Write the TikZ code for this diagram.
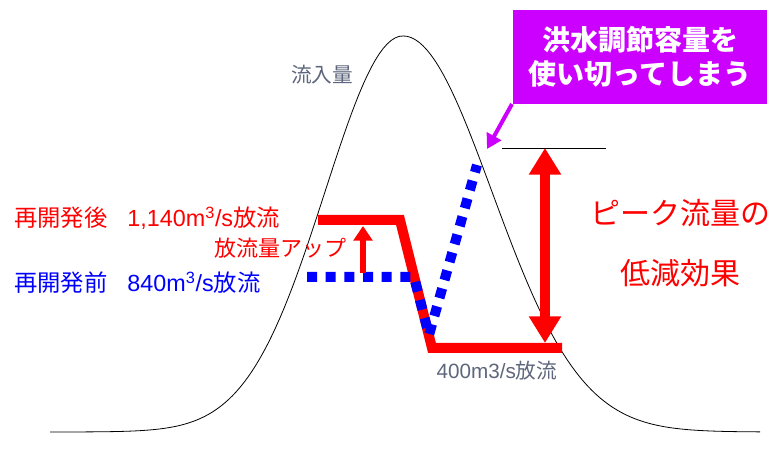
\documentclass[tikz,border=0pt]{standalone}
\usepackage{fontspec}
\setmainfont{Noto Sans CJK JP}
\newfontfamily\lat{Liberation Sans}
\usetikzlibrary{arrows.meta}
\definecolor{Rojo}{HTML}{FF0000}
\definecolor{Azul}{HTML}{0000FF}
\definecolor{Morado}{HTML}{CC00FF}
\definecolor{Pizarra}{HTML}{5E667C}
\tikzset{
  curva/.style    = {draw=black, line width=0.6pt},
  descarga/.style = {draw=Rojo, line width=7.5pt},
  previa/.style   = {draw=Azul, line width=7.5pt, dash pattern=on 7.5pt off 6.5pt},
  subida/.style   = {-{Triangle[width=14pt,length=11pt]}, draw=Rojo, fill=Rojo, line width=4.5pt},
  efecto/.style   = {{Triangle[width=23pt,length=20pt]}-{Triangle[width=23pt,length=20pt]},
                     draw=Rojo, fill=Rojo, line width=7.5pt},
  aviso/.style    = {-{Triangle[width=12pt,length=11pt]}, draw=Morado, fill=Morado, line width=3pt},
  etiq/.style     = {inner sep=0pt, anchor=west, font=\fontsize{17.5}{21}\selectfont},
  gris/.style     = {inner sep=0pt, text=Pizarra, font=\fontsize{15.5}{18}\selectfont},
  globo/.style    = {fill=Morado, text=white, align=center, inner sep=0pt,
                     minimum width=190.5pt, minimum height=71pt,
                     font=\bfseries\fontsize{21}{25.5}\selectfont},
}
\begin{document}
\begin{tikzpicture}[x=0.75pt, y=-0.75pt]
  \useasboundingbox (0,0) rectangle (776,470);
  % inflow hydrograph
  \draw[curva] plot[domain=50:403, samples=90] (\x, {432-396*exp(-((\x-403)/78)^2/2)});
  \draw[curva] plot[domain=403:760, samples=90] (\x, {432-396*exp(-((\x-403)/89)^2/2)});
  \node[gris] (inflow) at (322,75) {流入量};
  % discharge lines
  \coordinate (r1) at (318,220);
  \coordinate (r2) at (400,220);
  \coordinate (r3) at (432,348);
  \coordinate (r4) at (562,348);
  \coordinate (b1) at (307,277);
  \coordinate (b2) at (414,277);
  \coordinate (b3) at (429,335);
  \coordinate (b4) at (477,165);
  \draw[descarga] (r1) -- (r2) -- (r3) -- (r4);
  \draw[previa] (b1) -- (b2) -- (b3) -- (b4);
  \coordinate (u1) at (363,273);
  \coordinate (u2) at (363,226);
  \draw[subida] (u1) -- (u2);
  % peak reduction
  \coordinate (m1) at (502,148);
  \coordinate (m2) at (606,148);
  \draw[curva] (m1) -- (m2);
  \coordinate (d1) at (545,148);
  \coordinate (d2) at (545,343);
  \draw[efecto] (d1) -- (d2);
  % labels
  \node[etiq, text=Rojo] (after) at (14,218) {再開発後\hspace{0.85em}{\lat 1,140m\textsuperscript{3}/s}放流};
  \node[etiq, text=Rojo, font=\fontsize{16.5}{20}\selectfont] (up) at (214,248) {放流量アップ};
  \node[etiq, text=Azul] (before) at (14,283) {再開発前\hspace{0.85em}{\lat 840m\textsuperscript{3}/s}放流};
  \node[gris] (low) at (497,371) {{\lat 400m3/s}放流};
  \node[text=Rojo, align=center, inner sep=0pt,
        font=\fontsize{22.5}{45}\selectfont] (effect) at (680,243) {ピーク流量の\\低減効果};
  % callout
  \node[globo] (full) at (640,57) {洪水調節容量を\\使い切ってしまう};
  \coordinate (c1) at (512,104);
  \coordinate (c2) at (487,149);
  \draw[aviso] (c1) -- (c2);
\end{tikzpicture}
\end{document}
